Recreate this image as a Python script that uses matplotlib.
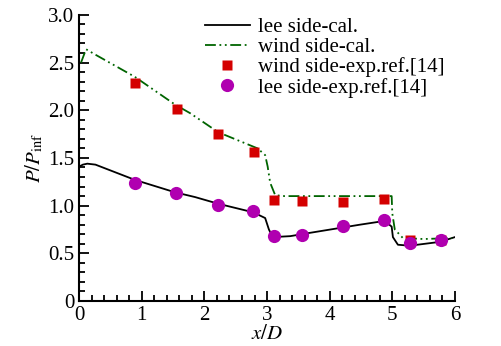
import matplotlib
matplotlib.use("Agg")
import matplotlib.pyplot as plt
from matplotlib.ticker import MultipleLocator, FuncFormatter

plt.rcParams["font.family"] = ["Liberation Serif", "DejaVu Serif"]
plt.rcParams["mathtext.fontset"] = "stix"

# calculated curves
lee_cal_x = [0.0, 0.06, 0.13, 0.26, 0.89, 1.53, 1.85, 2.22, 2.78, 2.97, 3.03, 3.09,
             3.37, 3.64, 4.48, 4.88, 4.99, 5.01, 5.09, 5.28, 5.76, 6.0]
lee_cal_y = [1.41, 1.43, 1.44, 1.43, 1.27, 1.14, 1.09, 1.02, 0.93, 0.87, 0.75, 0.67,
             0.68, 0.71, 0.80, 0.84, 0.78, 0.67, 0.59, 0.58, 0.62, 0.67]
wind_cal_x = [0.03, 0.11, 0.24, 0.89, 1.53, 1.77, 2.22, 2.85, 2.97, 3.01, 3.05, 3.13,
              3.28, 4.99, 5.0, 5.04, 5.17, 5.5, 5.95]
wind_cal_y = [2.50, 2.64, 2.59, 2.35, 2.06, 1.97, 1.77, 1.60, 1.53, 1.41, 1.24, 1.11,
              1.10, 1.10, 0.92, 0.75, 0.66, 0.65, 0.66]

# experiment ref.[14]
wind_exp_x = [0.89, 1.56, 2.22, 2.79, 3.11, 3.56, 4.21, 4.86, 5.28, 5.77]
wind_exp_y = [2.29, 2.01, 1.75, 1.56, 1.06, 1.05, 1.04, 1.07, 0.64, 0.64]
lee_exp_x = [0.89, 1.55, 2.22, 2.78, 3.11, 3.56, 4.21, 4.86, 5.28, 5.77]
lee_exp_y = [1.24, 1.13, 1.01, 0.94, 0.68, 0.69, 0.79, 0.85, 0.61, 0.64]

fig = plt.figure(figsize=(5.01, 3.46), dpi=100)
ax = fig.add_axes([0.158, 0.130, 0.750, 0.827])

ax.plot(lee_cal_x, lee_cal_y, color="black", lw=1.3, label="lee side-cal.")
ax.plot(wind_cal_x, wind_cal_y, color="#006400", lw=1.3,
        linestyle=(0, (6, 2, 1, 2, 1, 2)), label="wind side-cal.")
ax.plot(wind_exp_x, wind_exp_y, "s", color="#d40000", ms=7, mec="none",
        label="wind side-exp.ref.[14]")
ax.plot(lee_exp_x, lee_exp_y, "o", color="#b000b0", ms=9.5, mec="none",
        label="lee side-exp.ref.[14]")

ax.set_xlim(0, 6)
ax.set_ylim(0, 3.0)
ax.xaxis.set_major_locator(MultipleLocator(1))
ax.xaxis.set_minor_locator(MultipleLocator(0.2))
ax.yaxis.set_major_locator(MultipleLocator(0.5))
ax.yaxis.set_minor_locator(MultipleLocator(0.1))
ax.yaxis.set_major_formatter(FuncFormatter(lambda v, p: "0" if v == 0 else f"{v:.1f}"))

for s in ["top", "right"]:
    ax.spines[s].set_visible(False)
for s in ["left", "bottom"]:
    ax.spines[s].set_linewidth(1.5)
ax.tick_params(which="both", direction="in", width=1.3, labelsize=15)
ax.tick_params(which="major", length=7)
ax.tick_params(which="minor", length=4)

ax.set_xlabel(r"$x/D$", fontsize=15, labelpad=0)
ax.set_ylabel(r"$P/P_{\rm inf}$", fontsize=15, labelpad=2)

ax.legend(loc="upper left", bbox_to_anchor=(0.409, 0.95), bbox_transform=fig.transFigure,
          frameon=False, fontsize=15, handlelength=2.15, handletextpad=0.4,
          labelspacing=0.02, borderaxespad=0, borderpad=0)

fig.savefig("out.png", dpi=100)
